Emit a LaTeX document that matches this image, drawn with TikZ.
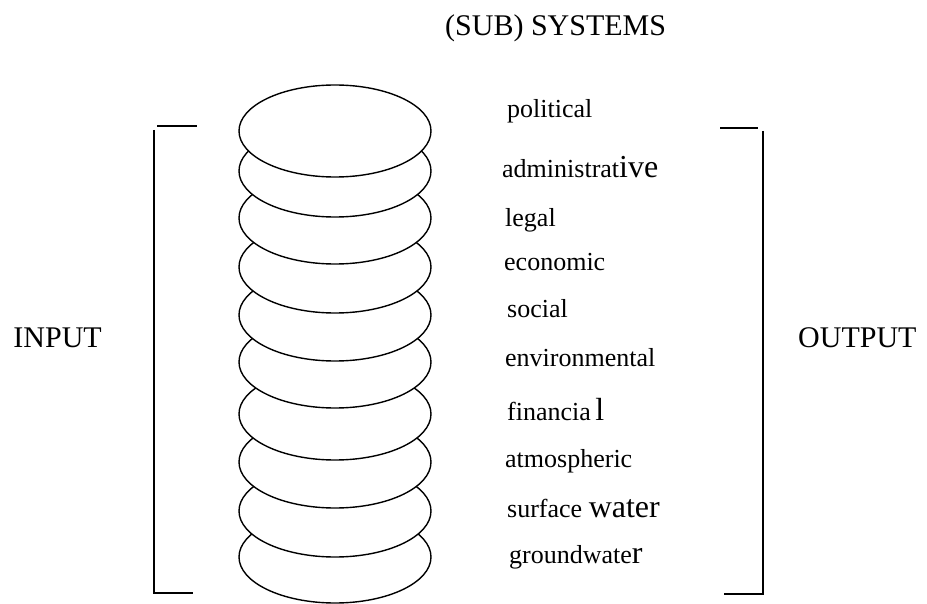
\documentclass[tikz,border=0pt]{standalone}
\usepackage{fontspec}
\setmainfont{Liberation Serif}
\usetikzlibrary{shapes.geometric}
\newcommand{\upsz}[1]{{\fontsize{32}{32}\selectfont #1}}
\begin{document}
\begin{tikzpicture}[x=1pt,y=-1pt,
  disc/.style={ellipse, draw, line width=1.4pt, fill=white, minimum width=192pt, minimum height=92pt, inner sep=0pt},
  lab/.style={anchor=base west, inner sep=0pt, font=\fontsize{26}{26}\selectfont},
  big/.style={inner sep=0pt, font=\fontsize{30}{30}\selectfont},
  brk/.style={line width=1.6pt}]
\useasboundingbox (0,0) rectangle (927,604);
% stack of discs, bottom first so upper ones overlap
\foreach \i/\y in {10/557,9/511,8/462,7/414,6/362,5/315,4/267,3/218,2/171,1/131}
  \node[disc] (e\i) at (335,\y) {};
% labels
\node[lab] (l1) at (507,118) {political};
\node[lab] (l2) at (502,178) {administrat\upsz{ive}};
\node[lab] (l3) at (505,227) {legal};
\node[lab] (l4) at (504,271) {economic};
\node[lab] (l5) at (507,318) {social};
\node[lab] (l6) at (505,366) {environmental};
\node[lab] (l7) at (507,420) {financia\,\upsz{l}};
\node[lab] (l8) at (505,467) {atmospheric};
\node[lab] (l9) at (507,517) {surface \upsz{water}};
\node[lab] (l10) at (509,563) {groundwate\upsz{r}};
% titles
\node[big, anchor=base west] (title) at (445,36) {(SUB) SYSTEMS};
\node[big, anchor=base east] (input) at (102,348) {INPUT};
\node[big, anchor=base west] (output) at (798,348) {OUTPUT};
% left bracket
\coordinate (lt1) at (157,126); \coordinate (lt2) at (197,126);
\coordinate (lv1) at (154,130); \coordinate (lv2) at (154,593);
\coordinate (lb2) at (193,593);
\draw[brk] (lt1) -- (lt2);
\draw[brk] (lv1) -- (lv2) -- (lb2);
% right bracket
\coordinate (rt1) at (720,128); \coordinate (rt2) at (758,128);
\coordinate (rv1) at (763,131); \coordinate (rv2) at (763,594);
\coordinate (rb1) at (724,594);
\draw[brk] (rt1) -- (rt2);
\draw[brk] (rv1) -- (rv2) -- (rb1);
\end{tikzpicture}
\end{document}
